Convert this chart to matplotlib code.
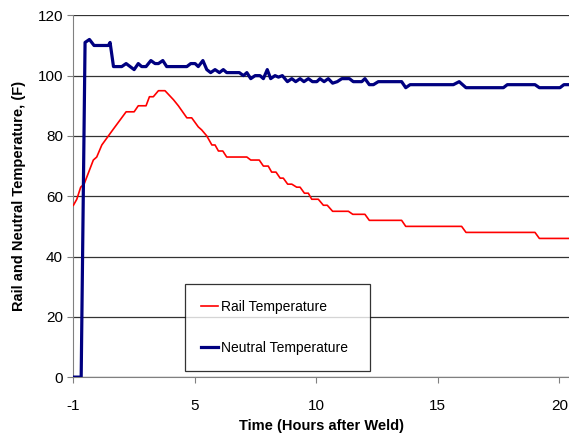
import matplotlib.pyplot as plt

plt.rcParams['font.family'] = ['Liberation Sans', 'DejaVu Sans']

# vertices (hours on the tick scale, degrees F)
rail_t = [0, 0.14, 0.30, 0.44, 0.82, 0.96, 1.17, 1.44, 1.62, 2.17, 2.50, 2.67, 2.99,
          3.13, 3.29, 3.50, 3.77, 4.12, 4.32, 4.67, 4.87, 5.14, 5.28, 5.49, 5.70,
          5.83, 5.97, 6.15, 6.31, 7.14, 7.30, 7.65, 7.82, 8.02, 8.16, 8.34, 8.51,
          8.64, 8.82, 8.99, 9.19, 9.33, 9.51, 9.67, 9.81, 10.08, 10.29, 10.45,
          10.67, 11.32, 11.50, 12.00, 12.18, 13.51, 13.68, 15.98, 16.16, 19.00,
          19.18, 20.4]
rail_temp = [57, 59, 63, 64, 72, 73, 77, 80, 82, 88, 88, 90, 90,
             93, 93, 95, 95, 92, 90, 86, 86, 83, 82, 80, 77,
             77, 75, 75, 73, 73, 72, 72, 70, 70, 68, 68, 66,
             66, 64, 64, 63, 63, 61, 61, 59, 59, 57, 57,
             55, 55, 54, 54, 52, 52, 50, 50, 48, 48,
             46, 46]

neutral_t = [0, 0.32, 0.48, 0.66, 0.85, 1.44, 1.51, 1.65, 1.99, 2.17, 2.50, 2.67,
             2.81, 2.99, 3.19, 3.36, 3.50, 3.68, 3.84, 4.67, 4.83, 5.01, 5.14, 5.33,
             5.49, 5.65, 5.83, 6.01, 6.17, 6.31, 6.83, 7.00, 7.14, 7.30, 7.48, 7.68,
             7.82, 7.98, 8.12, 8.30, 8.44, 8.60, 8.81, 8.99, 9.15, 9.33, 9.49, 9.67,
             9.84, 10.02, 10.15, 10.32, 10.49, 10.67, 10.86, 11.05, 11.36, 11.52,
             11.87, 12.00, 12.18, 12.35, 12.55, 13.51, 13.68, 13.86, 15.64, 15.88,
             16.16, 17.70, 17.86, 19.00, 19.18, 20.03, 20.19, 20.4]
neutral_temp = [0, 0, 111, 112, 110, 110, 111, 103, 103, 104, 102, 104,
                103, 103, 105, 104, 104, 105, 103, 103, 104, 104, 103, 105,
                102, 101, 102, 101, 102, 101, 101, 100, 101, 99, 100, 100,
                99, 102, 99, 100, 99.5, 100, 98, 99, 98, 99, 98, 99,
                98, 98, 99, 98, 99, 97.5, 98, 99, 99, 98,
                98, 99, 97, 97, 98, 98, 96, 97, 97, 98,
                96, 96, 97, 97, 96, 96, 97, 97]

xticks = [0, 5, 10, 15, 20]
xtick_labels = ['-1', '5', '10', '15', '20']

fig = plt.figure(figsize=(5.69, 4.38), dpi=100)
ax = fig.add_axes([0.129, 0.139, 0.871, 0.826])

ax.plot(rail_t, rail_temp, color='#FF0000', lw=1.2, label='Rail Temperature', zorder=3)
ax.plot(neutral_t, neutral_temp, color='#000080', lw=2.3, label='Neutral Temperature', zorder=3)

ax.set_xlim(0, 20.4)
ax.set_ylim(0, 120)
ax.set_yticks(range(0, 121, 20))
ax.set_xticks(xticks)
ax.set_xticklabels(xtick_labels)
ax.yaxis.grid(True, color='#333333', lw=0.9)
ax.set_axisbelow(True)

for s in ['top', 'right']:
    ax.spines[s].set_visible(False)
ax.spines['left'].set_color('#808080')
ax.spines['bottom'].set_color('#808080')
ax.tick_params(axis='both', direction='out', colors='#808080', length=4,
               labelcolor='black', labelsize=11)
ax.tick_params(axis='x', pad=12)

ax.set_xlabel('Time (Hours after Weld)', fontsize=10.5, fontweight='bold', labelpad=4)
ax.set_ylabel('Rail and Neutral Temperature, (F)', fontsize=10.5, fontweight='bold', labelpad=8)

leg = ax.legend(loc='lower left', bbox_to_anchor=(0.225, 0.018, 0.373, 0.243),
                mode='expand', borderaxespad=0, fontsize=10, labelspacing=1.9,
                borderpad=1.15, handlelength=1.25, handletextpad=0.2, fancybox=False)
leg.get_frame().set_edgecolor('black')
leg.get_frame().set_linewidth(0.9)

plt.savefig('out.png', dpi=100)
